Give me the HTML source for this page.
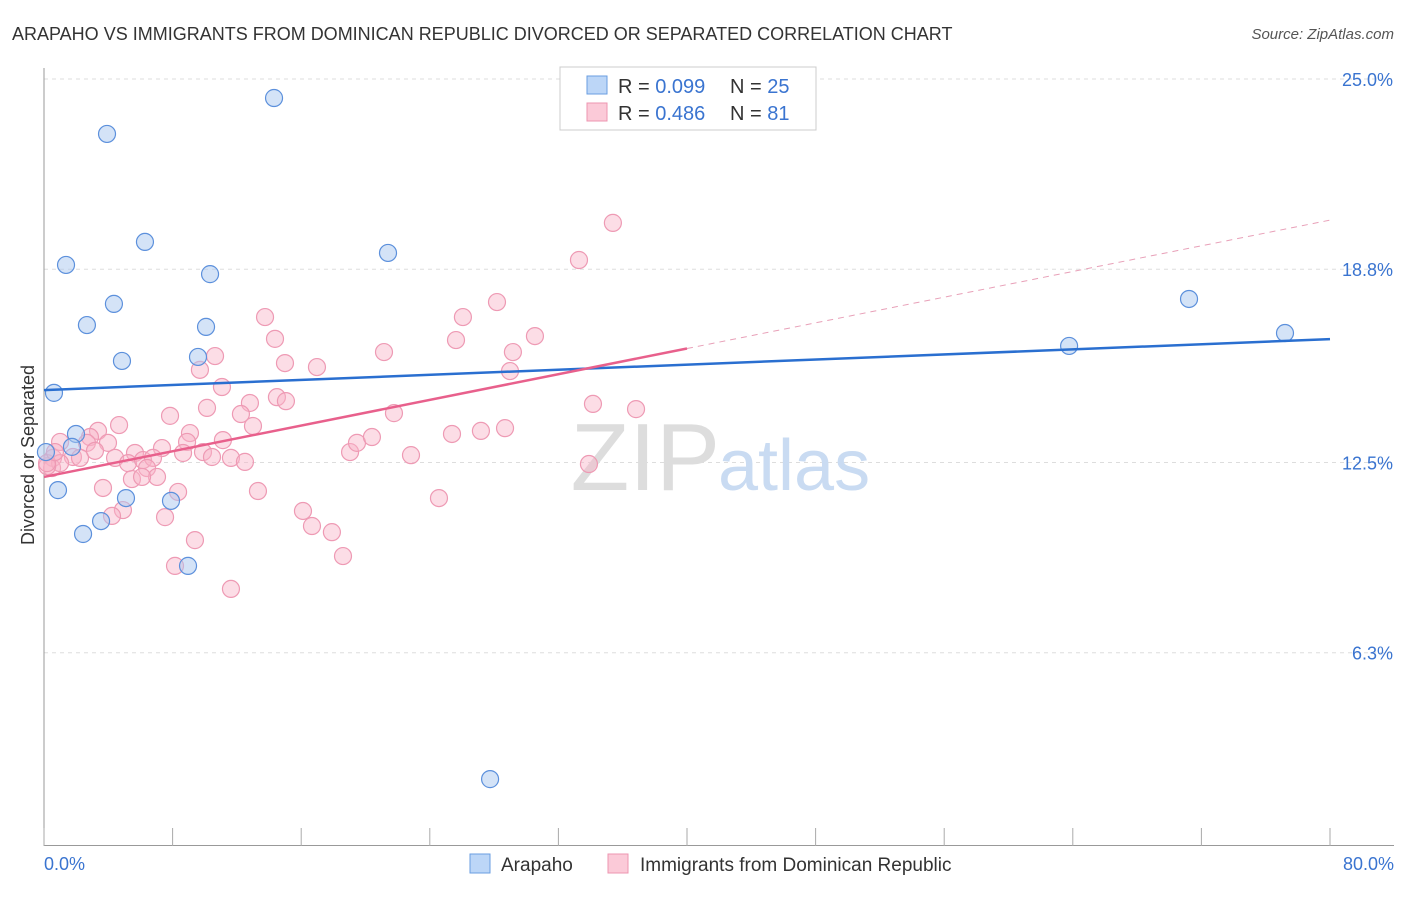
<!DOCTYPE html>
<html><head><meta charset="utf-8"><style>
body{margin:0;background:#fff;font-family:"Liberation Sans",sans-serif}
svg text{font-family:"Liberation Sans",sans-serif}
</style></head><body>
<svg width="1406" height="892">
<text x="12" y="40" font-size="18" fill="#333">ARAPAHO VS IMMIGRANTS FROM DOMINICAN REPUBLIC DIVORCED OR SEPARATED CORRELATION CHART</text>
<text x="1394" y="39" font-size="15" fill="#555" font-style="italic" text-anchor="end">Source: ZipAtlas.com</text>
<g id="grid"></g>
<text x="720" y="490" font-size="96" fill="#ddd" text-anchor="end" font-family="Liberation Serif">ZIP</text>
<text x="718" y="490" font-size="72" fill="#c9dbf2">atlas</text>
<g id="pts"></g><g id="lines"></g>
<text transform="translate(34,455) rotate(-90)" font-size="18" fill="#333" text-anchor="middle">Divorced or Separated</text>
<text x="44" y="870" font-size="18" fill="#3a74d0">0.0%</text>
<text x="1394" y="870" font-size="18" fill="#3a74d0" text-anchor="end">80.0%</text>
<g>
<rect x="560" y="67" width="256" height="63" fill="#fff" stroke="#ccc"/>
<rect x="587" y="76" width="20" height="18" fill="#bcd6f7" stroke="#6a9ee0"/>
<rect x="587" y="103" width="20" height="18" fill="#fbcad8" stroke="#ee95b0"/>
<text x="618" y="93" font-size="20" fill="#333">R = <tspan fill="#3a74d0">0.099</tspan><tspan x="730">N = </tspan><tspan fill="#3a74d0">25</tspan></text>
<text x="618" y="120" font-size="20" fill="#333">R = <tspan fill="#3a74d0">0.486</tspan><tspan x="730">N = </tspan><tspan fill="#3a74d0">81</tspan></text>
</g>
<g>
<rect x="470" y="854" width="20" height="19" fill="#bcd6f7" stroke="#6a9ee0"/>
<text x="501" y="871" font-size="19" fill="#333">Arapaho</text>
<rect x="608" y="854" width="20" height="19" fill="#fbcad8" stroke="#ee95b0"/>
<text x="640" y="871" font-size="19" fill="#333">Immigrants from Dominican Republic</text>
</g>
</svg>
<script>
const yTicks=[25,18.8,12.5,6.3];
const yTickLabels=["25.0%","18.8%","12.5%","6.3%"];
const xTicks=[0,8,16,24,32,40,48,56,64,72,80];
const blueX=[0.62,3.92,14.31,1.37,6.28,10.33,21.40,4.35,2.67,10.08,4.85,9.58,1.99,1.74,0.87,5.10,7.90,3.55,2.43,8.96,27.75,71.23,77.20,63.77,0.12];
const blueY=[14.77,23.21,24.38,18.94,19.69,18.64,19.33,17.67,16.98,16.92,15.81,15.94,13.43,13.01,11.60,11.34,11.25,10.59,10.17,9.13,2.18,17.83,16.72,16.30,12.84];
const pinkX=[11.07,7.84,10.14,12.81,12.25,14.49,15.05,13.00,4.67,3.36,2.86,1.00,3.98,2.67,3.17,9.08,8.90,7.34,11.13,8.65,9.89,10.45,11.63,12.50,19.04,19.47,5.66,4.42,5.23,6.16,6.78,6.41,7.03,5.47,6.10,1.80,2.24,0.56,0.50,1.00,3.67,8.34,13.31,4.91,4.23,7.53,9.39,8.15,11.63,16.11,16.67,17.91,18.60,13.75,14.37,14.99,16.98,10.64,9.70,21.15,26.06,28.18,25.63,30.54,29.17,28.99,33.28,35.39,34.15,36.83,21.77,20.40,22.83,25.38,27.18,28.68,33.90,24.57,0.2,0.19,0.68];
const pinkY=[14.96,14.02,14.28,14.44,14.08,14.63,14.50,13.69,13.72,13.53,13.33,13.17,13.14,13.14,12.88,13.46,13.17,12.97,13.23,12.81,12.84,12.68,12.65,12.52,12.84,13.14,12.81,12.65,12.48,12.58,12.65,12.32,12.03,11.96,12.03,12.68,12.65,12.65,12.32,12.48,11.67,11.54,11.57,10.95,10.76,10.72,9.97,9.13,8.38,10.92,10.43,10.23,9.45,17.24,16.53,15.74,15.61,15.97,15.52,16.10,17.24,17.73,16.49,16.62,16.10,15.48,19.10,20.31,14.41,14.24,14.11,13.33,12.74,13.43,13.53,13.62,12.45,11.34,12.38,12.48,12.84];
const blueTrend=[14.86,16.52];
const pinkTrend=[12.03,20.40];
const pinkSolidEnd=40;
const NS="http://www.w3.org/2000/svg";
const X=v=>44+v/80*1286, Y=v=>846-v*30.68;
function mk(t,a,p){const e=document.createElementNS(NS,t);for(const k in a)e.setAttribute(k,a[k]);p.appendChild(e);return e;}
const g=document.getElementById('grid');
yTicks.forEach((t,i)=>{const l=mk('line',{x1:44,x2:1394,y1:Y(t),y2:Y(t),stroke:'#ddd','stroke-dasharray':'4,4'},g);


const tx=mk('text',{x:1393,y:Y(t)+7,'font-size':18,fill:'#3a74d0','text-anchor':'end'},g);tx.textContent=yTickLabels[i];

});
const ax=mk('line',{x1:44,x2:44,y1:68,y2:846,stroke:'#999'},g);


const bx=mk('line',{x1:44,x2:1394,y1:845.5,y2:845.5,stroke:'#999'},g);


xTicks.forEach(t=>{const l=mk('line',{x1:X(t),x2:X(t),y1:828,y2:846,stroke:'#aaa'},g);

});
const p=document.getElementById('pts');
pinkX.forEach((x,i)=>{const c=mk('circle',{cx:X(x),cy:Y(pinkY[i]),r:8.5,fill:'rgba(248,180,200,0.45)',stroke:'#ee9ab4','stroke-width':1.2},p);

});
blueX.forEach((x,i)=>{const c=mk('circle',{cx:X(x),cy:Y(blueY[i]),r:8.5,fill:'rgba(170,200,240,0.5)',stroke:'#5c90dc','stroke-width':1.2},p);

});
const L=document.getElementById('lines');
const pm=(pinkTrend[1]-pinkTrend[0])/80, py=v=>pinkTrend[0]+pm*v;
const l1=mk('line',{x1:X(0),y1:Y(blueTrend[0]),x2:X(80),y2:Y(blueTrend[1]),stroke:'#2a6fd0','stroke-width':2.5},L);


const l2=mk('line',{x1:X(0),y1:Y(py(0)),x2:X(pinkSolidEnd),y2:Y(py(pinkSolidEnd)),stroke:'#e8608c','stroke-width':2.5},L);


const l3=mk('line',{x1:X(pinkSolidEnd),y1:Y(py(pinkSolidEnd)),x2:X(80),y2:Y(py(80)),stroke:'#e8a0b8','stroke-width':1,'stroke-dasharray':'6,5'},L);


</script>
</body></html>
